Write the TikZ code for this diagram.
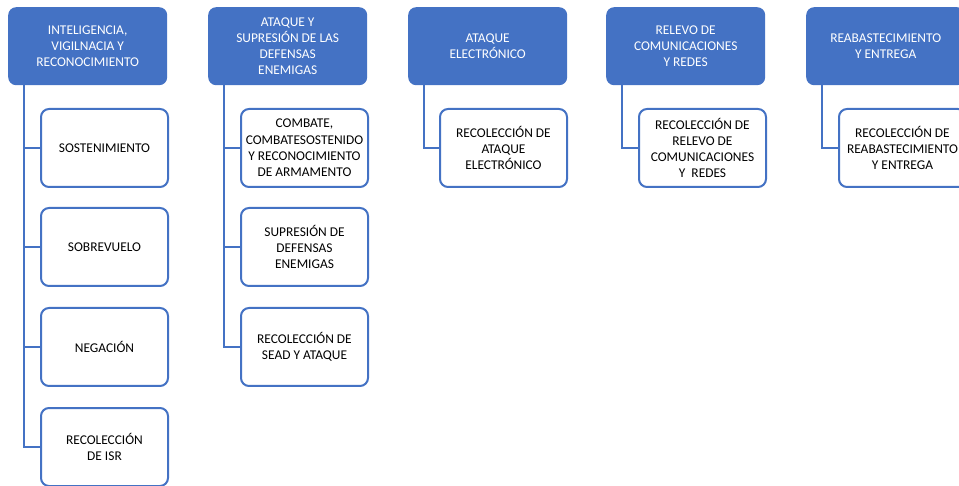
\documentclass[tikz,border=0pt]{standalone}
\usepackage{fontspec}
\setmainfont{Carlito}
\usetikzlibrary{positioning}
\definecolor{ofblue}{HTML}{4472C4}

\begin{document}
\begin{tikzpicture}[
    x=1pt, y=-1pt,
    every node/.style={font=\fontsize{13.4}{16.3}\selectfont, align=center, inner sep=0pt},
    head/.style={
        fill=ofblue, text=white, rounded corners=8pt,
        minimum width=159pt, minimum height=78pt, anchor=north west
    },
    item/.style={
        draw=ofblue, line width=2pt, fill=white, rounded corners=8pt,
        minimum width=127pt, minimum height=78pt, anchor=north west
    },
    link/.style={draw=ofblue, line width=2.2pt},
]
\useasboundingbox (0,0) rectangle (959,486);

% =====================================================================
%  Column 1: ISR
% =====================================================================
\node[head] (isr) at (8,7) {INTELIGENCIA,\\VIGILNACIA Y\\RECONOCIMIENTO};
\node[item] (isr1) at (40,108) {SOSTENIMIENTO};
\node[item] (isr2) at (40,207) {SOBREVUELO};
\node[item] (isr3) at (40,307) {NEGACIÓN};
\node[item] (isr4) at (40,407) {RECOLECCIÓN\\DE ISR};

\draw[link] ([xshift=16pt]isr.south west) |- (isr1.west);
\draw[link] ([xshift=16pt]isr.south west) |- (isr2.west);
\draw[link] ([xshift=16pt]isr.south west) |- (isr3.west);
\draw[link] ([xshift=16pt]isr.south west) |- (isr4.west);

% =====================================================================
%  Column 2: SEAD
% =====================================================================
\node[head] (sead) at (208,7) {ATAQUE Y\\SUPRESIÓN DE LAS\\DEFENSAS\\ENEMIGAS};
\node[item] (sead1) at (240,108) {COMBATE,\\COMBATESOSTENIDO\\Y RECONOCIMIENTO\\DE ARMAMENTO};
\node[item] (sead2) at (240,207) {SUPRESIÓN DE\\DEFENSAS\\ENEMIGAS};
\node[item] (sead3) at (240,307) {RECOLECCIÓN DE\\SEAD Y ATAQUE};

\draw[link] ([xshift=16pt]sead.south west) |- (sead1.west);
\draw[link] ([xshift=16pt]sead.south west) |- (sead2.west);
\draw[link] ([xshift=16pt]sead.south west) |- (sead3.west);

% =====================================================================
%  Column 3: electronic attack
% =====================================================================
\node[head] (ea) at (408,7) {ATAQUE\\ELECTRÓNICO};
\node[item] (ea1) at (439,108) {RECOLECCIÓN DE\\ATAQUE\\ELECTRÓNICO};

\draw[link] ([xshift=16pt]ea.south west) |- (ea1.west);

% =====================================================================
%  Column 4: relay
% =====================================================================
\node[head] (com) at (606,7) {RELEVO DE\\COMUNICACIONES\\Y REDES};
\node[item] (com1) at (638,108) {RECOLECCIÓN DE\\RELEVO DE\\COMUNICACIONES\\Y~~REDES};

\draw[link] ([xshift=16pt]com.south west) |- (com1.west);

% =====================================================================
%  Column 5: resupply
% =====================================================================
\node[head] (sup) at (806,7) {REABASTECIMIENTO\\Y ENTREGA};
\node[item] (sup1) at (838,108) {RECOLECCIÓN DE\\REABASTECIMIENTO\\Y ENTREGA};

\draw[link] ([xshift=16pt]sup.south west) |- (sup1.west);

\end{tikzpicture}
\end{document}
